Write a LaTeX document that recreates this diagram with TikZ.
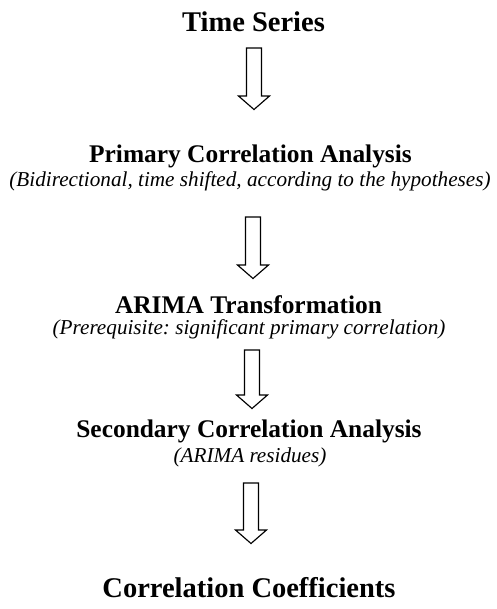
\documentclass[tikz,border=0pt]{standalone}
\usepackage{fontspec}
\setmainfont{Liberation Serif}
\frenchspacing
\begin{document}
\begin{tikzpicture}[x=1pt,y=1pt,
  title/.style={anchor=base,inner sep=0pt,font=\fontsize{28.5}{30}\selectfont\bfseries},
  heading/.style={anchor=base,inner sep=0pt,font=\fontsize{25.4}{27}\selectfont\bfseries},
  subtitle/.style={anchor=base,inner sep=0pt,font=\fontsize{21.2}{23}\selectfont\itshape},
  blockarrow/.pic={
    \draw[line width=1.15pt,line join=miter]
      (-7.5,0) -- (-7.5,-\pgfkeysvalueof{/tikz/shaftlen}) -- (-15.5,-\pgfkeysvalueof{/tikz/shaftlen})
      -- (0,-\pgfkeysvalueof{/tikz/shaftlen}-13.5) -- (15.5,-\pgfkeysvalueof{/tikz/shaftlen})
      -- (7.5,-\pgfkeysvalueof{/tikz/shaftlen}) -- (7.5,0) -- cycle;
  },
  shaftlen/.initial=48]
\useasboundingbox (0,0) rectangle (496,-609);

\node[title] (ts) at (253.5,-32) {Time Series};
\pic at (254,-48) {blockarrow};

\node[heading] (pca) at (250.5,-163) {Primary Correlation Analysis};
\node[subtitle] (pcas) at (250,-187) {(Bidirectional, time shifted, according to the hypotheses)};
\pic[shaftlen=48] at (253,-217) {blockarrow};

\node[heading] (arima) at (248.5,-313) {ARIMA Transformation};
\node[subtitle] (arimas) at (249,-334) {(Prerequisite: significant primary correlation)};
\pic[shaftlen=45] at (252,-350) {blockarrow};

\node[heading] (sca) at (249,-437) {Secondary Correlation Analysis};
\node[subtitle] (scas) at (250,-462) {(ARIMA residues)};
\pic[shaftlen=47] at (251,-483) {blockarrow};

\node[title] (cc) at (249,-597) {Correlation Coefficients};
\end{tikzpicture}
\end{document}
